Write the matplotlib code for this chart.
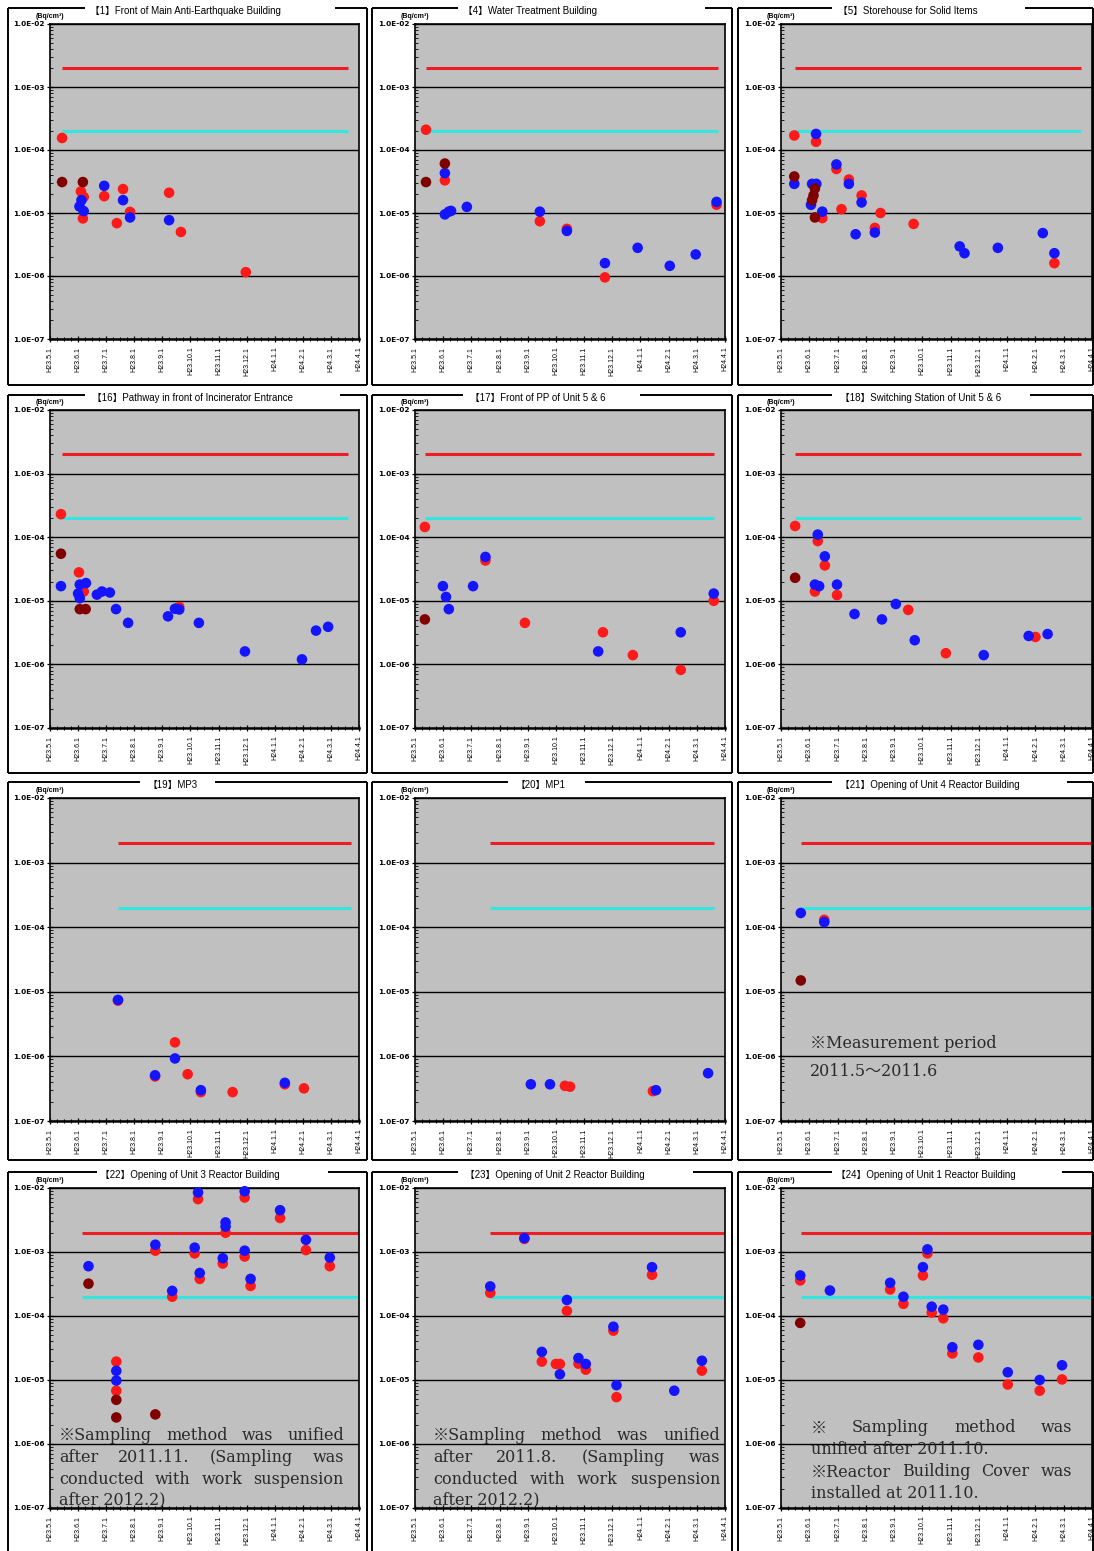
import matplotlib
matplotlib.use("Agg")
import math
import matplotlib.pyplot as plt
from matplotlib.lines import Line2D
from matplotlib.ticker import FixedLocator, MultipleLocator, FuncFormatter, LogLocator, NullFormatter

# ---------------- data (x = months after H23.5.1, y = Bq/cm3) ----------------
MONTH_LABELS = ["H23.5.1", "H23.6.1", "H23.7.1", "H23.8.1", "H23.9.1", "H23.10.1",
                "H23.11.1", "H23.12.1", "H24.1.1", "H24.2.1", "H24.3.1", "H24.4.1"]
LIMIT_RED = 2e-3
LIMIT_CYAN = 2e-4

TITLES = ["【1】Front of Main Anti-Earthquake Building", "【4】Water Treatment Building",
          "【5】Storehouse for Solid Items", "【16】Pathway in front of Incinerator Entrance",
          "【17】Front of PP of Unit 5 & 6", "【18】Switching Station of Unit 5 & 6",
          "【19】MP3", "【20】MP1", "【21】Opening of Unit 4 Reactor Building",
          "【22】Opening of Unit 3 Reactor Building", "【23】Opening of Unit 2 Reactor Building",
          "【24】Opening of Unit 1 Reactor Building"]

# limit line spans (start month, end month)
LINE_SPANS = [(0.43, 10.6), (0.38, 10.75), (0.5, 10.6), (0.43, 10.6), (0.35, 10.6), (0.5, 10.6),
              (2.42, 10.7), (2.66, 10.6), (0.7, 11.0), (1.13, 11.0), (2.67, 11.0), (0.7, 11.0)]

p1_dark = [(0.43, 3.1e-5), (1.17, 3.1e-5)]
p1_red = [(0.43, 1.55e-4), (1.1, 2.2e-5), (1.2, 1.8e-5), (1.17, 8.2e-6), (1.93, 1.85e-5),
          (2.6, 2.4e-5), (2.38, 6.9e-6), (2.85, 1.04e-5), (4.24, 2.1e-5), (4.66, 5.0e-6),
          (6.97, 1.15e-6)]
p1_blue = [(1.12, 1.6e-5), (1.05, 1.27e-5), (1.2, 1.07e-5), (1.93, 2.7e-5), (2.6, 1.6e-5),
           (2.85, 8.5e-6), (4.24, 7.7e-6)]

p4_dark = [(0.39, 3.1e-5), (1.06, 6.1e-5)]
p4_red = [(0.39, 2.1e-4), (1.06, 3.3e-5), (4.43, 7.4e-6), (5.39, 5.6e-6), (6.74, 9.5e-7),
          (10.7, 1.35e-5)]
p4_blue = [(1.06, 4.3e-5), (1.06, 9.5e-6), (1.2, 1.05e-5), (1.28, 1.08e-5), (1.84, 1.25e-5),
           (4.43, 1.05e-5), (5.39, 5.2e-6), (6.74, 1.6e-6), (7.9, 2.8e-6), (9.04, 1.45e-6),
           (9.96, 2.2e-6), (10.7, 1.5e-5)]

p5_dark = [(0.47, 3.8e-5), (1.2, 2.45e-5), (1.15, 1.9e-5), (1.1, 1.6e-5), (1.2, 8.5e-6)]
p5_red = [(0.47, 1.7e-4), (1.24, 1.35e-4), (1.46, 8.3e-6), (1.96, 5.0e-5), (2.4, 3.4e-5),
          (2.14, 1.15e-5), (2.85, 1.9e-5), (3.32, 5.8e-6), (3.52, 1.0e-5), (4.69, 6.7e-6),
          (9.67, 1.6e-6)]
p5_blue = [(1.24, 1.8e-4), (0.47, 2.9e-5), (1.1, 2.9e-5), (1.25, 2.9e-5), (1.06, 1.35e-5),
           (1.46, 1.05e-5), (1.96, 5.9e-5), (2.4, 2.9e-5), (2.85, 1.47e-5), (2.64, 4.6e-6),
           (3.32, 4.9e-6), (6.32, 2.95e-6), (6.49, 2.3e-6), (7.67, 2.8e-6), (9.26, 4.8e-6),
           (9.67, 2.3e-6)]

p16_dark = [(0.39, 5.5e-5), (1.06, 7.4e-6), (1.27, 7.4e-6)]
p16_red = [(0.39, 2.3e-4), (1.03, 2.8e-5), (1.2, 1.4e-5), (4.6, 8.0e-6)]
p16_blue = [(0.39, 1.7e-5), (1.06, 1.8e-5), (1.28, 1.9e-5), (1.0, 1.3e-5), (1.06, 1.1e-5),
            (1.67, 1.25e-5), (1.85, 1.4e-5), (2.13, 1.35e-5), (2.35, 7.4e-6), (2.78, 4.5e-6),
            (4.2, 5.7e-6), (4.45, 7.5e-6), (4.6, 7.3e-6), (5.3, 4.5e-6), (6.94, 1.6e-6),
            (8.97, 1.2e-6), (9.47, 3.4e-6), (9.9, 3.9e-6)]

p17_dark = [(0.35, 5.1e-6)]
p17_red = [(0.35, 1.45e-4), (2.5, 4.3e-5), (3.9, 4.5e-6), (6.67, 3.2e-6), (7.73, 1.4e-6),
           (9.43, 8.2e-7), (10.6, 1.0e-5)]
p17_blue = [(0.99, 1.7e-5), (1.1, 1.15e-5), (1.2, 7.4e-6), (2.06, 1.7e-5), (2.5, 4.9e-5),
            (6.5, 1.6e-6), (9.43, 3.2e-6), (10.6, 1.3e-5)]

p18_dark = [(0.5, 2.3e-5)]
p18_red = [(0.5, 1.5e-4), (1.3, 8.7e-5), (1.55, 3.6e-5), (1.2, 1.4e-5), (1.98, 1.23e-5),
           (4.5, 7.2e-6), (5.83, 1.5e-6), (9.0, 2.7e-6)]
p18_blue = [(1.3, 1.1e-4), (1.55, 5.0e-5), (1.2, 1.8e-5), (1.35, 1.7e-5), (1.98, 1.8e-5),
            (2.6, 6.2e-6), (3.57, 5.1e-6), (4.06, 8.9e-6), (4.73, 2.4e-6), (7.17, 1.4e-6),
            (8.76, 2.8e-6), (9.43, 3.0e-6)]

p19_dark = []
p19_red = [(2.42, 7.3e-6), (3.74, 4.9e-7), (4.45, 1.65e-6), (4.9, 5.3e-7), (5.37, 2.8e-7),
           (6.5, 2.8e-7), (8.36, 3.7e-7), (9.04, 3.2e-7)]
p19_blue = [(2.42, 7.5e-6), (3.74, 5.1e-7), (4.45, 9.3e-7), (5.37, 3.0e-7), (8.36, 3.9e-7)]

p20_dark = []
p20_red = [(5.32, 3.5e-7), (5.5, 3.4e-7), (8.44, 2.9e-7)]
p20_blue = [(4.11, 3.7e-7), (4.79, 3.7e-7), (8.55, 3.0e-7), (10.4, 5.5e-7)]

p21_dark = [(0.7, 1.5e-5)]
p21_red = [(1.53, 1.3e-4)]
p21_blue = [(0.7, 1.66e-4), (1.53, 1.2e-4)]

p22_dark = [(1.37, 3.2e-4), (2.36, 4.9e-6), (2.36, 2.6e-6), (3.75, 2.9e-6)]
p22_red = [(2.36, 1.94e-5), (2.36, 6.8e-6), (3.75, 1.05e-3), (4.35, 2.0e-4), (5.27, 6.7e-3),
           (5.15, 9.5e-4), (5.33, 3.8e-4), (6.15, 6.6e-4), (6.25, 2.0e-3), (6.93, 7.1e-3),
           (6.93, 8.5e-4), (7.14, 2.95e-4), (8.19, 3.4e-3), (9.11, 1.07e-3), (9.96, 6.0e-4)]
p22_blue = [(1.37, 6.0e-4), (2.36, 1.39e-5), (2.36, 9.8e-6), (3.75, 1.3e-3), (4.35, 2.47e-4),
            (5.27, 8.5e-3), (5.15, 1.17e-3), (5.33, 4.7e-4), (6.15, 8.0e-4), (6.25, 2.9e-3),
            (6.25, 2.5e-3), (6.93, 8.9e-3), (6.93, 1.05e-3), (7.14, 3.8e-4), (8.19, 4.5e-3),
            (9.11, 1.55e-3), (9.96, 8.2e-4)]

p23_dark = []
p23_red = [(2.67, 2.3e-4), (3.88, 1.6e-3), (4.5, 1.94e-5), (5.0, 1.78e-5), (5.14, 1.78e-5),
           (5.39, 1.2e-4), (5.8, 1.8e-5), (6.06, 1.45e-5), (7.04, 5.9e-5), (7.15, 5.4e-6),
           (8.41, 4.4e-4), (10.18, 1.4e-5)]
p23_blue = [(2.67, 2.9e-4), (3.88, 1.65e-3), (4.5, 2.75e-5), (5.14, 1.23e-5), (5.39, 1.78e-4),
            (5.8, 2.2e-5), (6.06, 1.78e-5), (7.04, 6.8e-5), (7.15, 8.3e-6), (8.41, 5.8e-4),
            (9.2, 6.8e-6), (10.18, 2.0e-5)]

p24_dark = [(0.68, 7.8e-5)]
p24_red = [(0.68, 3.6e-4), (3.86, 2.6e-4), (4.33, 1.55e-4), (5.02, 4.3e-4), (5.18, 9.5e-4),
           (5.33, 1.13e-4), (5.74, 9.2e-5), (6.06, 2.6e-5), (6.98, 2.25e-5), (8.02, 8.5e-6),
           (9.15, 6.8e-6), (9.94, 1.02e-5)]
p24_blue = [(0.68, 4.3e-4), (1.73, 2.5e-4), (3.86, 3.3e-4), (4.33, 2.0e-4), (5.02, 5.8e-4),
            (5.18, 1.1e-3), (5.33, 1.4e-4), (5.74, 1.26e-4), (6.06, 3.25e-5), (6.98, 3.55e-5),
            (8.02, 1.32e-5), (9.15, 1.0e-5), (9.94, 1.7e-5)]

SERIES = [(p1_dark, p1_red, p1_blue), (p4_dark, p4_red, p4_blue), (p5_dark, p5_red, p5_blue),
          (p16_dark, p16_red, p16_blue), (p17_dark, p17_red, p17_blue), (p18_dark, p18_red, p18_blue),
          (p19_dark, p19_red, p19_blue), (p20_dark, p20_red, p20_blue), (p21_dark, p21_red, p21_blue),
          (p22_dark, p22_red, p22_blue), (p23_dark, p23_red, p23_blue), (p24_dark, p24_red, p24_blue)]

NOTE_21 = ["※Measurement period", "2011.5～2011.6"]
NOTE_22 = ["※Sampling method was unified", "after 2011.11. (Sampling was",
           "conducted with work suspension", "after 2012.2)"]
NOTE_23 = ["※Sampling method was unified", "after 2011.8. (Sampling was",
           "conducted with work suspension", "after 2012.2)"]
NOTE_24 = ["※  Sampling  method  was", "unified after 2011.10.",
           "※Reactor Building Cover was", "installed at 2011.10."]

# ---------------- layout ----------------
W, H = 1094, 1551
fig = plt.figure(figsize=(W / 100, H / 100), dpi=100)
fig.patch.set_facecolor("white")

COL_PLOT = [(50, 359), (415, 725), (781, 1092)]
ROW_PLOT = [(24, 339), (410, 728), (798, 1121), (1188, 1508)]
COL_BOX = [(8, 367), (372, 732), (738, 1093)]
ROW_BOX = [(8, 385), (395, 773), (782, 1160), (1172, 1556)]
TITLE_X = [90, 463, 838, 92, 470, 840, 148, 515, 840, 100, 465, 836]
GAPS = [(85, 335), (458, 705), (832, 1025), (85, 340), (463, 640), (832, 1030),
        (140, 215), (508, 585), (832, 1067), (97, 328), (458, 693), (832, 1062)]

SANS = ["Liberation Sans", "Noto Sans CJK JP"]
SERIF = ["DejaVu Serif", "Noto Sans CJK JP"]


def fx(x):
    return x / W


def fy(y):
    return 1 - y / H


def fline(x0, y0, x1, y1, lw=1.4):
    fig.add_artist(Line2D([fx(x0), fx(x1)], [fy(y0), fy(y1)], transform=fig.transFigure,
                          color="black", lw=lw, solid_capstyle="butt"))


def ylab(v, pos):
    e = int(round(math.log10(v)))
    return "1.0E-%02d" % (-e)


renderer = fig.canvas.get_renderer()


def note(lines, x0, x1, ys, justify, size=11.5):
    for line, y, j in zip(lines, ys, justify):
        words = line.split()
        if not j or len(words) < 2:
            fig.text(fx(x0), fy(y), line, ha="left", va="center", fontsize=size,
                     family=SERIF, color="#2a2a2a", zorder=20)
            continue
        texts = [fig.text(0, 0, w, ha="left", va="center", fontsize=size, family=SERIF,
                          color="#2a2a2a", zorder=20) for w in words]
        widths = [t.get_window_extent(renderer).width for t in texts]
        gap = (x1 - x0 - sum(widths)) / (len(words) - 1)
        x = x0
        for t, wd in zip(texts, widths):
            t.set_position((fx(x), fy(y)))
            x += wd + gap


for i in range(12):
    r, c = divmod(i, 3)
    px0, px1 = COL_PLOT[c]
    py0, py1 = ROW_PLOT[r]
    bx0, bx1 = COL_BOX[c]
    by0, by1 = ROW_BOX[r]

    # panel frame with gap for title
    g0, g1 = GAPS[i]
    fline(bx0, by0, g0, by0)
    fline(g1, by0, bx1, by0)
    fline(bx0, by0, bx0, by1)
    fline(bx1, by0, bx1, by1)
    fline(bx0, by1, bx1, by1)
    fig.text(fx(TITLE_X[i]), fy(by0 + 3), TITLES[i], ha="left", va="center",
             fontsize=7, family=SANS, color="black")

    ax = fig.add_axes([fx(px0), fy(py1), (px1 - px0) / W, (py1 - py0) / H])
    ax.set_facecolor("#c0c0c0")
    ax.set_yscale("log")
    ax.set_ylim(1e-7, 1e-2)
    ax.set_xlim(0, 11)
    ax.set_axisbelow(True)
    ax.yaxis.set_major_locator(LogLocator(base=10, numticks=10))
    ax.yaxis.set_minor_locator(LogLocator(base=10, subs=range(2, 10), numticks=60))
    ax.yaxis.set_major_formatter(FuncFormatter(ylab))
    ax.yaxis.set_minor_formatter(NullFormatter())
    ax.grid(True, axis="y", which="major", color="black", lw=1.0)
    ax.xaxis.set_major_locator(FixedLocator(range(12)))
    ax.set_xticklabels(MONTH_LABELS, rotation=90, fontsize=5, family=SANS)
    ax.xaxis.set_minor_locator(MultipleLocator(0.25))
    ax.tick_params(axis="x", which="major", direction="inout", length=5, width=0.9, pad=3)
    ax.tick_params(axis="x", which="minor", direction="inout", length=3, width=0.8)
    ax.tick_params(axis="y", which="major", direction="inout", length=4, width=0.9,
                   labelsize=5.3, pad=2)
    ax.tick_params(axis="y", which="minor", direction="in", length=2, width=0.6)
    for lab in ax.get_yticklabels():
        lab.set_fontweight("bold")
    for sp in ax.spines.values():
        sp.set_color("black")
        sp.set_linewidth(1.2)
    ax.spines["bottom"].set_linewidth(1.8)

    s0, s1 = LINE_SPANS[i]
    ax.plot([s0, s1], [LIMIT_RED, LIMIT_RED], color="#ee1c24", lw=2.2, zorder=2,
            solid_capstyle="butt")
    ax.plot([s0, s1], [LIMIT_CYAN, LIMIT_CYAN], color="#33e6e0", lw=2.2, zorder=2,
            solid_capstyle="butt")

    dark, red, blue = SERIES[i]
    for pts, col, z in ((red, "#ff1a1a", 3), (blue, "#1414ff", 4), (dark, "#800000", 5)):
        if pts:
            xs = [p[0] for p in pts]
            ys = [p[1] for p in pts]
            ax.scatter(xs, ys, s=58, color=col, edgecolors="none", zorder=z, clip_on=False)

    fig.text(fx(px0), fy(py0 - 8), "(Bq/cm³)", ha="center", va="center", fontsize=5,
             family=SANS, fontweight="bold")

# notes
note(NOTE_21, 810, 1005, [1043, 1071], [False, False])
note(NOTE_22, 59, 344, [1436, 1458, 1479, 1500], [True, True, True, False])
note(NOTE_23, 433, 720, [1436, 1458, 1479, 1500], [True, True, True, False])
note(NOTE_24, 811, 1072, [1428, 1450, 1472, 1493], [True, False, True, False])

fig.savefig("out.png", dpi=100)
